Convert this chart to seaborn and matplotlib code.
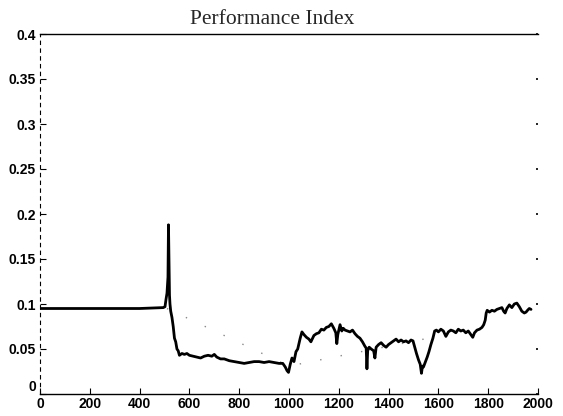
import matplotlib
matplotlib.use("Agg")
import matplotlib.pyplot as plt
import seaborn as sns
import pandas as pd

# Performance index over iterations
iters = [
    0, 100, 200, 300, 400, 495, 502, 506, 510, 514, 516, 518, 520, 522, 525,
    530, 535, 540, 545, 550, 555, 560, 570, 580, 590, 600, 615, 630, 645, 660,
    675, 690, 700, 710, 725, 740, 760, 780, 800, 820, 840, 860, 880, 900, 920,
    940, 960, 975, 985, 992, 998, 1005, 1012, 1020, 1028, 1035, 1045, 1052, 1060, 1070,
    1080, 1088, 1095, 1100, 1110, 1120, 1130, 1140, 1150, 1160, 1170, 1180, 1188, 1192, 1196,
    1205, 1212, 1218, 1225, 1235, 1245, 1255, 1265, 1275, 1285, 1295, 1305, 1310, 1313, 1316,
    1322, 1330, 1340, 1345, 1350, 1360, 1370, 1380, 1390, 1400, 1410, 1420, 1430, 1440, 1450,
    1460, 1470, 1480, 1490, 1498, 1505, 1512, 1520, 1527, 1532, 1536, 1540, 1548, 1555, 1562,
    1570, 1578, 1585, 1592, 1600, 1610, 1620, 1630, 1640, 1650, 1660, 1670, 1680, 1690, 1700,
    1710, 1720, 1730, 1738, 1745, 1755, 1765, 1775, 1782, 1788, 1792, 1796, 1805, 1815, 1825,
    1835, 1845, 1855, 1862, 1868, 1875, 1885, 1895, 1905, 1915, 1925, 1935, 1945, 1952, 1958, 1965, 1972,
]
perf = [
    0.095, 0.095, 0.095, 0.095, 0.095, 0.096, 0.097, 0.105, 0.112, 0.130, 0.188, 0.150, 0.110, 0.100, 0.092,
    0.085, 0.075, 0.062, 0.058, 0.050, 0.048, 0.043, 0.045, 0.044, 0.045, 0.043, 0.042, 0.041, 0.040, 0.042,
    0.043, 0.042, 0.044, 0.041, 0.039, 0.039, 0.037, 0.036, 0.035, 0.034, 0.035, 0.036, 0.036, 0.035, 0.036,
    0.035, 0.034, 0.034, 0.030, 0.026, 0.024, 0.033, 0.040, 0.036, 0.047, 0.050, 0.062, 0.069, 0.066, 0.063,
    0.061, 0.058, 0.062, 0.065, 0.067, 0.068, 0.072, 0.071, 0.074, 0.075, 0.078, 0.073, 0.068, 0.056, 0.066,
    0.077, 0.070, 0.073, 0.071, 0.070, 0.069, 0.071, 0.067, 0.064, 0.062, 0.058, 0.053, 0.051, 0.028, 0.048,
    0.052, 0.050, 0.048, 0.040, 0.052, 0.055, 0.057, 0.054, 0.052, 0.055, 0.057, 0.059, 0.061, 0.058, 0.060,
    0.058, 0.059, 0.057, 0.060, 0.059, 0.052, 0.045, 0.038, 0.033, 0.023, 0.031, 0.030, 0.036, 0.041, 0.047,
    0.055, 0.062, 0.070, 0.071, 0.069, 0.072, 0.070, 0.064, 0.069, 0.071, 0.070, 0.068, 0.072, 0.070, 0.071,
    0.068, 0.070, 0.066, 0.063, 0.068, 0.071, 0.072, 0.074, 0.077, 0.082, 0.090, 0.093, 0.091, 0.093, 0.092,
    0.094, 0.095, 0.096, 0.092, 0.090, 0.095, 0.099, 0.096, 0.100, 0.101, 0.097, 0.092, 0.090, 0.091, 0.093, 0.095, 0.094,
]

# Reference trend (faint dotted line)
trend_iters = [510, 1000, 1560]
trend_vals = [0.095, 0.031, 0.062]

x_ticks = [0, 200, 400, 600, 800, 1000, 1200, 1400, 1600, 1800, 2000]
y_ticks = [0, 0.05, 0.1, 0.15, 0.2, 0.25, 0.3, 0.35, 0.4]
y_labels = ["0", "0.05", "0.1", "0.15", "0.2", "0.25", "0.3", "0.35", "0.4"]

sns.set_style("white")
plt.rcParams["font.family"] = ["Liberation Sans", "DejaVu Sans"]

fig = plt.figure(figsize=(5.63, 4.16), dpi=100)
ax = fig.add_axes([40 / 563, 1 - 394 / 416, 498 / 563, 360 / 416])

df = pd.DataFrame({"iter": iters, "perf": perf})
tr = pd.DataFrame({"iter": trend_iters, "perf": trend_vals})

sns.lineplot(data=tr, x="iter", y="perf", ax=ax, color="#888888",
             linewidth=1.0, linestyle=(0, (1, 14)))
sns.lineplot(data=df, x="iter", y="perf", ax=ax, color="black", linewidth=2.0)

ax.set_xlim(0, 2000)
ax.set_ylim(0, 0.4)
ax.set_xticks(x_ticks)
ax.set_xticklabels([str(v) for v in x_ticks])
ax.set_yticks(y_ticks)
ax.set_yticklabels(y_labels)
ax.set_xlabel("")
ax.set_ylabel("")

for lab in ax.get_xticklabels() + ax.get_yticklabels():
    lab.set_fontweight("bold")
    lab.set_fontsize(10)

ax.tick_params(axis="x", direction="in", length=4, width=0.8, pad=2,
               colors="black", bottom=True, top=False)
ax.tick_params(axis="y", direction="in", length=4, width=0.8, pad=3,
               colors="black", left=True, right=False)
# lift the y-axis "0" a touch so it sits clear of the x-axis "0"
ax.get_yticklabels()[0].set_va("bottom")

# short marks along the right edge
ax2 = ax.twinx()
ax2.set_ylim(0, 0.4)
ax2.set_yticks(y_ticks)
ax2.set_yticklabels([])
ax2.tick_params(axis="y", direction="in", length=1.5, width=1.2, colors="black")
for s in ax2.spines.values():
    s.set_visible(False)

ax.spines["top"].set_linewidth(1.0)
ax.spines["bottom"].set_linewidth(1.0)
ax.spines["left"].set_linewidth(0.8)
ax.spines["left"].set_linestyle((0, (3, 4)))
ax.spines["right"].set_visible(False)
for s in ax.spines.values():
    s.set_color("black")

fig.text(272 / 563, 1 - 20 / 416, "Performance Index", ha="center", va="center",
         fontsize=15.5, family=["Liberation Serif", "DejaVu Serif"])

fig.savefig("out.png", dpi=100)
